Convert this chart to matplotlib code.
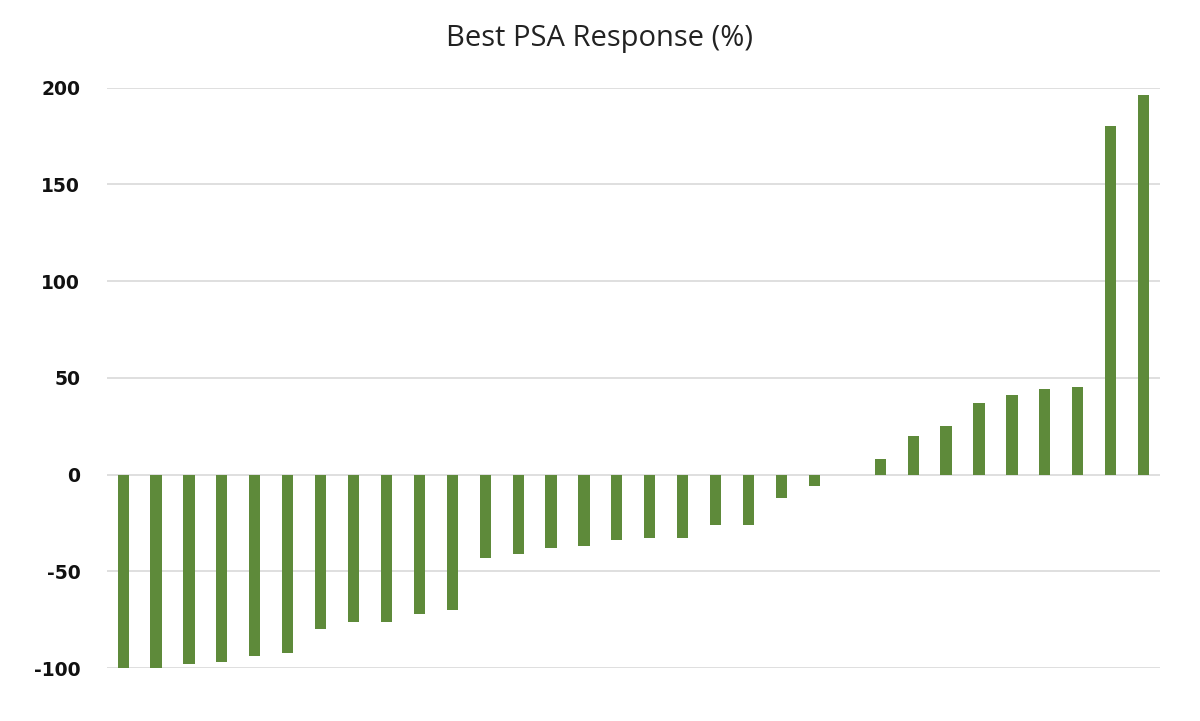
import matplotlib
matplotlib.use("Agg")
import matplotlib.pyplot as plt
import numpy as np

patients = list(range(1, 33))
psa_response = [-100, -100, -98, -97, -94, -92, -80, -76, -76, -72, -70,
                -43, -41, -38, -37, -34, -33, -33, -26, -26, -12, -6,
                0, 8, 20, 25, 37, 41, 44, 45, 180, 196]
yticks = [-100, -50, 0, 50, 100, 150, 200]
title = "Best PSA Response (%)"

fig = plt.figure(figsize=(12, 7.21), dpi=100)
ax = fig.add_axes([0.0889, 0.0735, 0.8778, 0.8051])

x = np.arange(len(patients))
ax.bar(x, psa_response, width=0.34, color="#5E8A3A", zorder=3)

ax.set_xlim(-0.5, len(patients) - 0.5)
ax.set_ylim(-100, 200)
ax.set_yticks(yticks)
ax.set_yticklabels([str(t) for t in yticks], fontsize=13.5, fontweight="bold",
                   family="DejaVu Sans", color="#111111")
ax.set_xticks([])
ax.tick_params(axis="y", length=0, pad=19)
ax.grid(axis="y", color="#D9D9D9", linewidth=1.2, zorder=0)
for s in ax.spines.values():
    s.set_visible(False)

fig.text(0.5, 0.947, title, ha="center", va="center", fontsize=21,
         family="Open Sans", color="#222222")

fig.savefig("out.png", dpi=100)
